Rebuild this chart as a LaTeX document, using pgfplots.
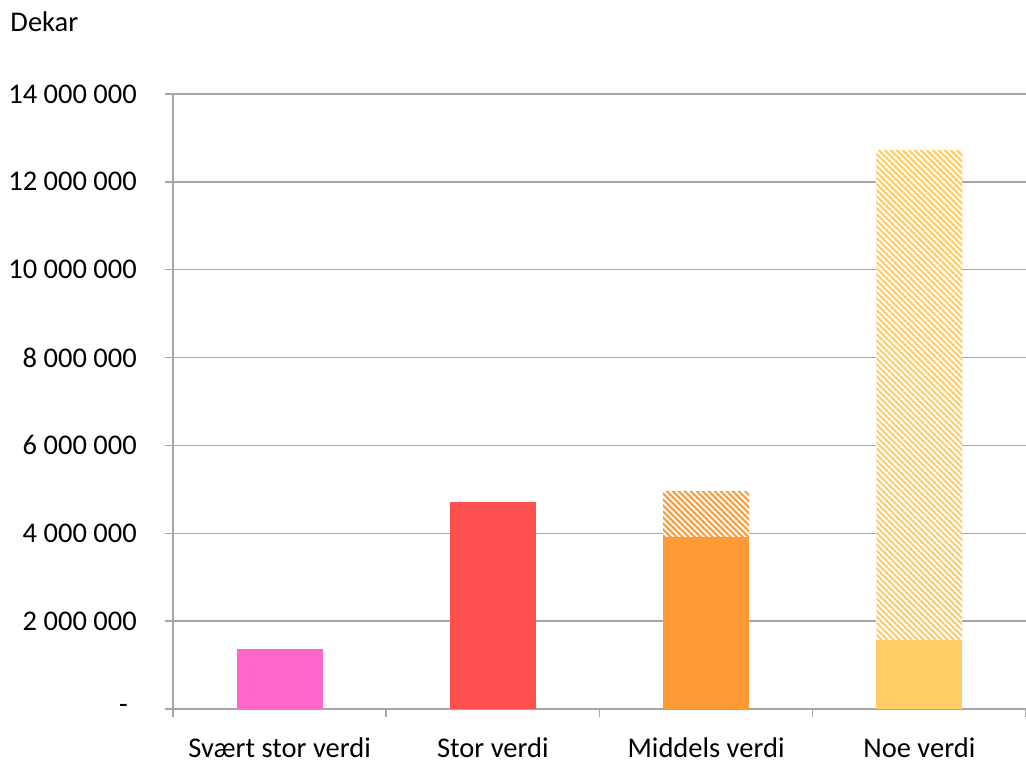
\documentclass[border=0pt]{standalone}
\usepackage{fontspec}
\setmainfont{Carlito}
\usepackage{pgfplots}
\pgfplotsset{compat=1.18}
\usetikzlibrary{patterns.meta}
\definecolor{cpink}{HTML}{FF66CC}
\definecolor{cred}{HTML}{FF5050}
\definecolor{corange}{HTML}{FF9933}
\definecolor{cyellow}{HTML}{FFCC66}
\definecolor{gridgray}{HTML}{A6A6A6}
\begin{document}
\fontsize{11.4}{13.7}\selectfont
\begin{tikzpicture}
\useasboundingbox (-69.2pt,-21.2pt) rectangle (341.2pt,283.6pt);
\begin{axis}[
  at={(0,0)}, anchor=south west, scale only axis,
  width=341.2pt, height=246pt,
  xmin=-0.5, xmax=3.5, ymin=0, ymax=14000000,
  ybar stacked, bar width=34.4pt,
  scaled y ticks=false,
  xtick={0,1,2,3},
  xticklabels={Svært stor verdi, Stor verdi, Middels verdi, Noe verdi},
  minor xtick={-0.5,0.5,1.5,2.5,3.5},
  ytick={0,2000000,4000000,6000000,8000000,10000000,12000000,14000000},
  yticklabels={-\rule{3.6pt}{0pt}, 2 000 000, 4 000 000, 6 000 000, 8 000 000, 10 000 000, 12 000 000, 14 000 000},
  ymajorgrids, grid style={draw=gridgray, line width=0.6pt},
  axis x line*=bottom, axis y line*=left,
  axis line style={draw=gridgray, line width=0.6pt, -},
  tick align=outside, major tick length=3.2pt, minor tick length=3.2pt,
  major x tick style={draw=none},
  minor x tick style={draw=gridgray, line width=0.6pt},
  major y tick style={draw=gridgray, line width=0.6pt},
  yticklabel style={anchor=east, xshift=-7.3pt},
  xticklabel style={anchor=base, inner sep=0pt, yshift=-16.4pt},
  tick label style={font=\fontsize{11.4}{13.7}\selectfont, text=black},
]
\addplot[draw=none, fill=cpink] coordinates {(0,1370000) (1,0) (2,0) (3,0)};
\addplot[draw=none, fill=cred] coordinates {(0,0) (1,4710000) (2,0) (3,0)};
\addplot[draw=none, fill=corange] coordinates {(0,0) (1,0) (2,3920000) (3,0)};
\addplot[draw=none, fill=cyellow] coordinates {(0,0) (1,0) (2,0) (3,1570000)};
\addplot[draw=none, fill=white, postaction={pattern={Lines[angle=-45, distance=1.7pt, line width=0.85pt]}, pattern color=corange}] coordinates {(0,0) (1,0) (2,1020000) (3,0)};
\addplot[draw=none, fill=white, postaction={pattern={Lines[angle=-45, distance=1.7pt, line width=0.85pt]}, pattern color=cyellow}] coordinates {(0,0) (1,0) (2,0) (3,11150000)};
\end{axis}
\node[anchor=west, inner sep=0pt] at (-65.2pt,274.8pt) {Dekar};
\end{tikzpicture}
\end{document}
